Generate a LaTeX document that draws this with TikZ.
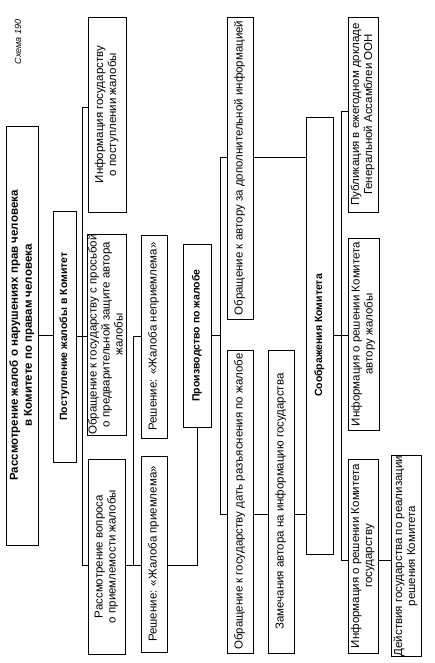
\documentclass[tikz,border=0pt]{standalone}
\usepackage{fontspec}
\setmainfont{Liberation Sans}
\usetikzlibrary{calc}
\newcommand{\rt}[1]{\rotatebox{90}{\begin{tabular}{@{}c@{}}#1\end{tabular}}}
\begin{document}
\begin{tikzpicture}[x=1pt,y=-1pt,
  box/.style={draw, line width=0.8pt, inner sep=0pt, align=center,
    font=\fontsize{11.5}{13}\selectfont},
  bx/.style 2 args={minimum width=#1pt, minimum height=#2pt},
  bbold/.style={font=\fontsize{10.5}{12.5}\selectfont\bfseries},
  ln/.style={line width=0.8pt}]
\useasboundingbox (0,0) rectangle (434,663);
\fill[white] (0,0) rectangle (434,663);

\node[font=\fontsize{9}{11}\selectfont\itshape] (lbl) at (18,42) {\rotatebox{90}{Схема 190}};

\node[box, bx={32}{419}, font=\fontsize{11.5}{14}\selectfont\bfseries] (title) at (22,335.5)
  {\rt{Рассмотрение жалоб о нарушениях прав человека\\в Комитете по правам человека}};
\node[box, bbold, bx={23}{251}] (post) at (64.5,336.5) {\rt{Поступление жалобы в Комитет}};
\node[box, bx={38}{195}] (infpost) at (107,114.5) {\rt{Информация государству\\о поступлении жалобы}};
\node[box, bx={38}{201}] (obrzash) at (107,334.5) {\rt{Обращение к государству с просьбой\\о предварительной защите автора\\жалобы}};
\node[box, bx={37}{195}] (rassm) at (106.5,556.5) {\rt{Рассмотрение вопроса\\о приемлемости жалобы}};
\node[box, bx={26}{203}] (nepr) at (154,336.5) {\rt{Решение: «Жалоба неприемлема»}};
\node[box, bx={26}{196}] (priem) at (154,554) {\rt{Решение: «Жалоба приемлема»}};
\node[box, bbold, bx={28}{183}] (proizv) at (197,335.5) {\rt{Производство по жалобе}};
\node[box, bx={26}{302}] (obravt) at (240,168) {\rt{Обращение к автору за дополнительной информацией}};
\node[box, bx={26}{303}] (obrgos) at (240,501.5) {\rt{Обращение к государству дать разъяснения по жалобе}};
\node[box, bx={26}{303}] (zamech) at (281,501.5) {\rt{Замечания автора на информацию государства}};
\node[box, bbold, bx={27}{437}] (soobr) at (319.5,335.5) {\rt{Соображения Комитета}};
\node[box, bx={30}{195}] (publ) at (363,114.5) {\rt{Публикация в ежегодном докладе\\Генеральной Ассамблеи ООН}};
\node[box, bx={31}{192}] (infavt) at (363.5,334) {\rt{Информация о решении Комитета\\автору жалобы}};
\node[box, bx={30}{194}] (infgos) at (363,556) {\rt{Информация о решении Комитета\\государству}};
\node[box, bx={30}{194}] (deistv) at (406,556) {\rt{Действия государства по реализации\\решения Комитета}};

\coordinate (b1t) at (82,107);
\coordinate (b1b) at (82,565);
\coordinate (b2t) at (133,336);
\coordinate (b2b) at (133,565);
\coordinate (b3t) at (220,157);
\coordinate (b3b) at (220,514);
\coordinate (b4t) at (341,111);
\coordinate (b4b) at (341,560);

\draw[ln] (title.east) -- (title.east -| post.west);
\draw[ln] (post.east) -- (post.east -| obrzash.west);
\draw[ln] (b1t -| infpost.west) -- (b1t) -- (b1b) -- (b1b -| rassm.west);

\draw[ln] (b2b -| rassm.east) -- (b2b -| priem.west);
\draw[ln] (b2b) -- (b2t) -- (b2t -| nepr.west);
\draw[ln] (b2b -| priem.east) -- (b2b -| proizv.south) -- (proizv.south);

\draw[ln] (proizv.east) -- (proizv.east -| b3t);
\draw[ln] (b3t -| obravt.west) -- (b3t) -- (b3b) -- (b3b -| obrgos.west);
\draw[ln] (b3t -| obravt.east) -- (b3t -| soobr.west);
\draw[ln] (b3b -| obrgos.east) -- (b3b -| zamech.west);
\draw[ln] (b3b -| zamech.east) -- (b3b -| soobr.west);

\draw[ln] (soobr.east) -- (soobr.east -| infavt.west);
\draw[ln] (b4t -| publ.west) -- (b4t) -- (b4b) -- (b4b -| infgos.west);
\draw[ln] (b4b -| infgos.east) -- (b4b -| deistv.west);
\end{tikzpicture}
\end{document}
